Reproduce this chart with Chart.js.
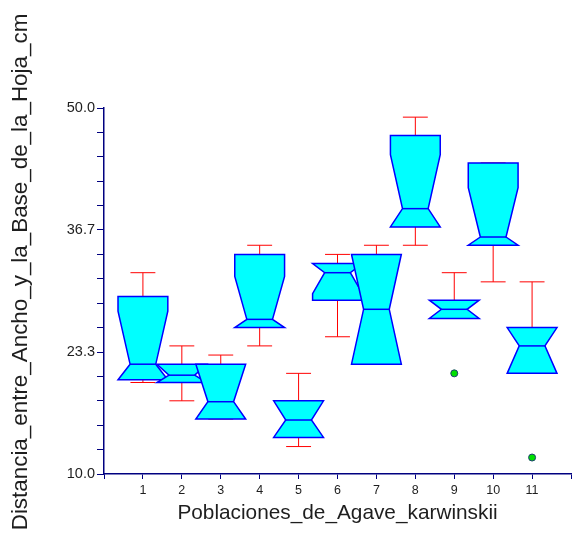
<!DOCTYPE html>
<html>
<head>
<meta charset="utf-8">
<script src="https://cdn.jsdelivr.net/npm/chart.js@4.4.0/dist/chart.umd.min.js"></script>
<style>
    html, body { margin: 0; padding: 0; background: #fff; }
</style>
</head>
<body>
<canvas id="boxChart" width="576" height="540"></canvas>
<script>
// populations (x axis categories)
const poblaciones = ['1', '2', '3', '4', '5', '6', '7', '8', '9', '10', '11'];

// box statistics (cm)
const minimos   = [20.0, 18.0, 16.0, 24.0, 13.0, 25.0, 22.0, 35.0, 27.0, 31.0, 21.0];
const cuartil1  = [20.3, 20.0, 16.0, 26.0, 14.0, 29.0, 22.0, 37.0, 27.0, 35.0, 21.0];
const medianas  = [22.0, 20.8, 17.9, 26.9, 15.9, 32.0, 28.0, 39.0, 28.0, 35.9, 24.0];
const cuartil3  = [29.4, 22.0, 22.0, 34.0, 18.0, 33.0, 34.0, 47.0, 29.0, 44.0, 26.0];
const maximos   = [32.0, 24.0, 23.0, 35.0, 21.0, 34.0, 35.0, 49.0, 32.0, 44.0, 31.0];
// notch limits (already clipped to the box)
const muescaInf = [20.3, 20.0, 16.0, 26.0, 14.0, 29.7, 22.0, 37.0, 27.0, 35.0, 21.0];
const muescaSup = [27.8, 22.0, 22.0, 31.6, 18.0, 33.0, 34.0, 44.9, 29.0, 41.3, 26.0];

// outliers
const atipicosPob   = [9, 11];
const atipicosValor = [21.0, 11.8];

// y axis labels
const yTickLabels = ['10.0', '23.3', '36.7', '50.0'];
const yMin = 10, yMax = 50;

const tituloX = 'Poblaciones_de_Agave_karwinskii';
const tituloY = 'Distancia_entre_Ancho_y_la_Base_de_la_Hoja_cm';

const fuente = "'Liberation Sans', Arial, sans-serif";
const azulEje = '#000080';

// half widths in x units
const MEDIO_ANCHO = 0.64;
const MEDIO_MUESCA = 0.33;
const MEDIO_BIGOTE = 0.32;

// draws the notched boxes and the whiskers
const cajasPlugin = {
    id: 'cajas',
    beforeDatasetsDraw(chart) {
        const ctx = chart.ctx;
        const xs = chart.scales.x, ys = chart.scales.y;
        ctx.save();

        //whiskers first, boxes go on top
        poblaciones.forEach((p, i) => {
            const cx = xs.getPixelForValue(i + 1);
            const w = xs.getPixelForValue(i + 1 + MEDIO_BIGOTE) - cx;
            const yMaxP = ys.getPixelForValue(maximos[i]);
            const yMinP = ys.getPixelForValue(minimos[i]);
            ctx.strokeStyle = '#ff0000';
            ctx.lineWidth = 1;
            ctx.beginPath();
            ctx.moveTo(cx, yMaxP); ctx.lineTo(cx, yMinP);
            ctx.moveTo(cx - w, yMaxP); ctx.lineTo(cx + w, yMaxP);
            ctx.moveTo(cx - w, yMinP); ctx.lineTo(cx + w, yMinP);
            ctx.stroke();
        });

        poblaciones.forEach((p, i) => {
            const cx = xs.getPixelForValue(i + 1);
            const h = xs.getPixelForValue(i + 1 + MEDIO_ANCHO) - cx;
            const n = xs.getPixelForValue(i + 1 + MEDIO_MUESCA) - cx;
            const yq3 = ys.getPixelForValue(cuartil3[i]);
            const yq1 = ys.getPixelForValue(cuartil1[i]);
            const ym = ys.getPixelForValue(medianas[i]);
            const ysup = ys.getPixelForValue(muescaSup[i]);
            const yinf = ys.getPixelForValue(muescaInf[i]);

            ctx.beginPath();
            ctx.moveTo(cx - h, yq3);
            ctx.lineTo(cx + h, yq3);
            ctx.lineTo(cx + h, ysup);
            ctx.lineTo(cx + n, ym);
            ctx.lineTo(cx + h, yinf);
            ctx.lineTo(cx + h, yq1);
            ctx.lineTo(cx - h, yq1);
            ctx.lineTo(cx - h, yinf);
            ctx.lineTo(cx - n, ym);
            ctx.lineTo(cx - h, ysup);
            ctx.closePath();
            ctx.fillStyle = '#00ffff';
            ctx.fill();
            ctx.strokeStyle = '#0000ff';
            ctx.lineWidth = 1.5;
            ctx.lineJoin = 'miter';
            ctx.stroke();

            //median line
            ctx.beginPath();
            ctx.moveTo(cx - n, ym);
            ctx.lineTo(cx + n, ym);
            ctx.stroke();
        });
        ctx.restore();
    }
};

// y axis title, centred on the canvas height like the original
const tituloYPlugin = {
    id: 'tituloY',
    afterDraw(chart) {
        const ctx = chart.ctx;
        ctx.save();
        ctx.translate(21, 272);
        ctx.rotate(-Math.PI / 2);
        ctx.font = '22.4px ' + fuente;
        ctx.fillStyle = '#1e1e1e';
        ctx.textAlign = 'center';
        ctx.textBaseline = 'middle';
        ctx.fillText(tituloY, 0, 0);
        ctx.restore();
    }
};

const puntos = atipicosPob.map((p, i) => ({ x: p, y: atipicosValor[i] }));

new Chart(document.getElementById('boxChart'), {
    type: 'scatter',
    data: {
        datasets: [{
            label: 'atipicos',
            data: puntos,
            pointRadius: 3.5,
            pointBackgroundColor: '#00e000',
            pointBorderColor: '#1c3f6e',
            pointBorderWidth: 1
        }]
    },
    options: {
        responsive: false,
        animation: false,
        layout: { padding: { left: 0, top: 108, right: 2, bottom: 14 } },
        plugins: {
            legend: { display: false },
            tooltip: { enabled: false }
        },
        scales: {
            x: {
                type: 'linear',
                position: 'bottom',
                min: 0,
                max: poblaciones.length + 1,
                afterBuildTicks: scale => {
                    const t = [];
                    for (let v = 0; v <= poblaciones.length + 1; v++) t.push({ value: v });
                    scale.ticks = t;
                },
                afterFit: scale => { scale.height = 52; },
                ticks: {
                    autoSkip: false,
                    maxRotation: 0,
                    padding: 4,
                    color: '#1e1e1e',
                    font: { family: fuente, size: 12.5 },
                    callback: v => (v >= 1 && v <= poblaciones.length) ? poblaciones[v - 1] : ''
                },
                grid: {
                    drawOnChartArea: false,
                    drawTicks: true,
                    tickLength: 5,
                    color: azulEje,
                    lineWidth: 1
                },
                border: { display: true, color: azulEje, width: 1.5 },
                title: {
                    display: true,
                    text: tituloX,
                    color: '#1e1e1e',
                    font: { family: fuente, size: 20.8 },
                    padding: { top: 0, bottom: 0 }
                }
            },
            y: {
                type: 'linear',
                min: yMin,
                max: yMax,
                afterBuildTicks: scale => {
                    const t = [];
                    const pasos = (yTickLabels.length - 1) * 5;
                    for (let k = 0; k <= pasos; k++) t.push({ value: yMin + k * (yMax - yMin) / pasos });
                    scale.ticks = t;
                },
                afterFit: scale => { scale.width = 104; },
                ticks: {
                    autoSkip: false,
                    padding: 2,
                    color: '#1e1e1e',
                    font: { family: fuente, size: 14.5 },
                    callback: (v, idx) => idx % 5 === 0 ? yTickLabels[idx / 5] : ''
                },
                grid: {
                    drawOnChartArea: false,
                    drawTicks: true,
                    tickLength: 7,
                    color: azulEje,
                    lineWidth: 1
                },
                border: { display: true, color: azulEje, width: 1.5 }
            }
        }
    },
    plugins: [cajasPlugin, tituloYPlugin]
});
</script>
</body>
</html>
